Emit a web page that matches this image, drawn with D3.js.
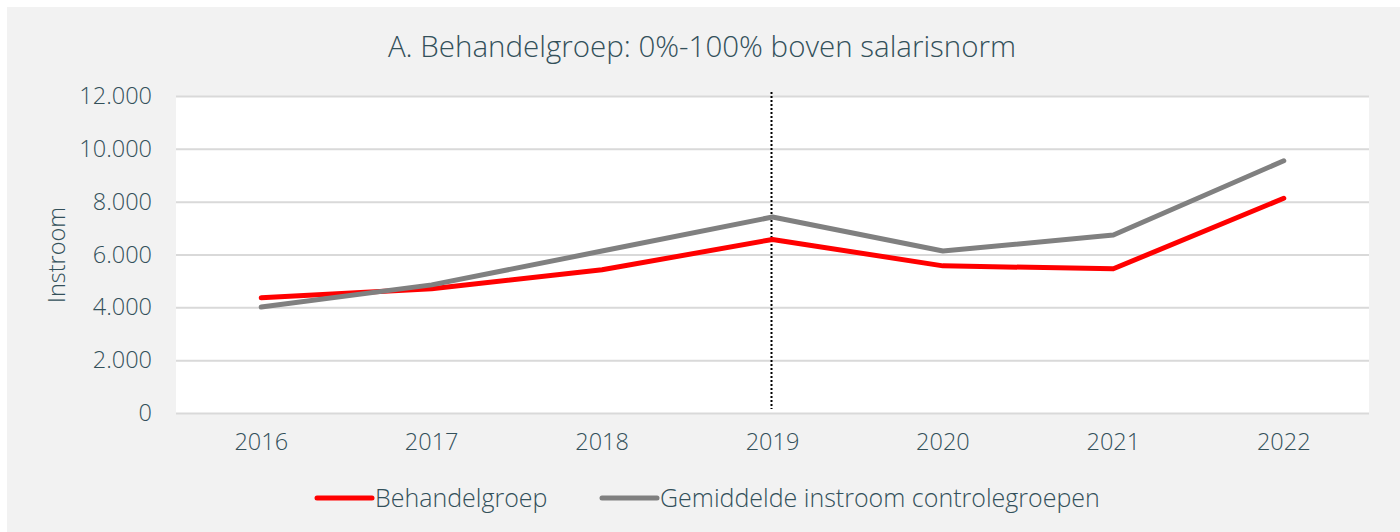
<!DOCTYPE html>
<html><head><meta charset="utf-8">
<script src="https://cdn.jsdelivr.net/npm/d3@7"></script>
<style>body{margin:0;background:#fff}svg{display:block}text{font-family:"Open Sans","Noto Sans",sans-serif;font-weight:300;fill:#33505a}</style>
</head><body>
<svg id="c" width="1400" height="532"></svg>
<script>
const years = ["2016","2017","2018","2019","2020","2021","2022"];
const behandelgroep = [4360, 4700, 5420, 6570, 5570, 5460, 8130];
const controle = [4010, 4850, 6130, 7420, 6130, 6740, 9550];
const yTicks = [0, 2000, 4000, 6000, 8000, 10000, 12000];
const markerYear = "2019";
const title = "A. Behandelgroep: 0%-100% boven salarisnorm";
const yTitle = "Instroom";
const legendNames = ["Behandelgroep", "Gemiddelde instroom controlegroepen"];

const svg = d3.select("#c");
svg.append("rect").attr("x",7).attr("y",7).attr("width",1393).attr("height",525).attr("fill","#f2f2f2");
const m = {l:176, r:1369, t:96, b:413};
const x = d3.scaleBand().domain(years).range([m.l, m.r]);
const y = d3.scaleLinear().domain([0,12000]).range([m.b, m.t]);
svg.append("rect").attr("x",m.l).attr("y",m.t).attr("width",m.r-m.l).attr("height",m.b-m.t).attr("fill","#fff");

const fmt = d => d3.format(",")(d).replace(/,/g,".");
const font = "'Open Sans','Noto Sans',sans-serif";
const yAxis = svg.append("g").attr("transform",`translate(${m.l},0)`)
  .call(d3.axisLeft(y).tickValues(yTicks).tickSize(-(m.r-m.l)).tickFormat(fmt).tickPadding(24));
yAxis.select(".domain").remove();
yAxis.selectAll("line").attr("stroke","#d9d9d9").attr("stroke-width",2);
yAxis.selectAll("text").attr("font-size",23.5).style("font-family",font).style("font-weight",300).attr("fill","#33505a");

const xAxis = svg.append("g").attr("transform",`translate(0,${m.b})`)
  .call(d3.axisBottom(x).tickSize(0).tickPadding(20));
xAxis.select(".domain").remove();
xAxis.selectAll("text").attr("font-size",23.5).style("font-family",font).style("font-weight",300).attr("fill","#33505a");

const cx = d => x(d) + x.bandwidth()/2;
svg.append("line").attr("x1",cx(markerYear)-1).attr("x2",cx(markerYear)-1).attr("y1",92).attr("y2",409)
  .attr("stroke","#000").attr("stroke-width",2).attr("stroke-dasharray","2,2");

const line = d3.line().x((d,i)=>cx(years[i])).y(d=>y(d));
svg.append("path").datum(behandelgroep).attr("d",line).attr("fill","none").attr("stroke","#ff0000").attr("stroke-width",5).attr("stroke-linecap","round").attr("stroke-linejoin","round");
svg.append("path").datum(controle).attr("d",line).attr("fill","none").attr("stroke","#808080").attr("stroke-width",5).attr("stroke-linecap","round").attr("stroke-linejoin","round");

svg.append("text").attr("x",702).attr("y",57).attr("text-anchor","middle").attr("font-size",29.5).text(title);
svg.append("text").attr("transform","translate(65,255) rotate(-90)").attr("text-anchor","middle").attr("font-size",23.5).text(yTitle);

const lg = [{n:legendNames[0],c:"#ff0000",x:317},{n:legendNames[1],c:"#808080",x:602}];
lg.forEach(d=>{
  svg.append("line").attr("x1",d.x).attr("x2",d.x+55).attr("y1",498).attr("y2",498).attr("stroke",d.c).attr("stroke-width",5).attr("stroke-linecap","round");
  svg.append("text").attr("x",d.x+58).attr("y",507).attr("font-size",25).text(d.n);
});
</script>
</body></html>
